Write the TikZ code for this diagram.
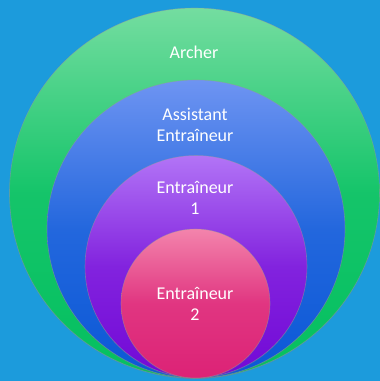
\documentclass[tikz,border=0pt]{standalone}
\usepackage{fontspec}
\setmainfont{Carlito}
\usetikzlibrary{shadows}
\definecolor{bg}{HTML}{1C9BDC}
\definecolor{gtop}{HTML}{74DDA0}
\definecolor{gbot}{HTML}{04C060}
\definecolor{btop}{HTML}{6E94F2}
\definecolor{bbot}{HTML}{0A58D6}
\definecolor{ptop}{HTML}{B274F6}
\definecolor{pbot}{HTML}{7208D6}
\definecolor{ktop}{HTML}{F384AC}
\definecolor{kbot}{HTML}{DC2276}
\tikzset{
  ring/.style={circle, inner sep=0pt, draw=black!40, draw opacity=0.5, line width=0.6pt,
    drop shadow={shadow xshift=0pt, shadow yshift=-1pt, opacity=0.25}},
  lab/.style={text=white, font=\fontsize{18}{20.5}\selectfont, align=center}
}
\begin{document}
\begin{tikzpicture}[x=1pt,y=1pt]
\fill[bg] (0,0) rectangle (380,-381);
\useasboundingbox (0,0) rectangle (380,-381);
\node[ring, minimum size=370pt, top color=gtop, bottom color=gbot, middle color=gbot!85!gtop] (archer) at (194.5,-193) {};
\node[ring, minimum size=298pt, top color=btop, bottom color=bbot, middle color=bbot!75!btop] (assist) at (196,-229) {};
\node[ring, minimum size=222pt, top color=ptop, bottom color=pbot, middle color=pbot!75!ptop] (e1) at (196,-266.5) {};
\node[ring, minimum size=149pt, top color=ktop, bottom color=kbot, middle color=kbot!80!ktop] (e2) at (195.5,-303.5) {};
\node[lab] (t0) at (194,-52) {Archer};
\node[lab] (t1) at (195,-125) {Assistant\\Entraîneur};
\node[lab] (t2) at (195,-198) {Entraîneur\\1};
\node[lab] (t3) at (195,-304) {Entraîneur\\2};
\end{tikzpicture}
\end{document}
